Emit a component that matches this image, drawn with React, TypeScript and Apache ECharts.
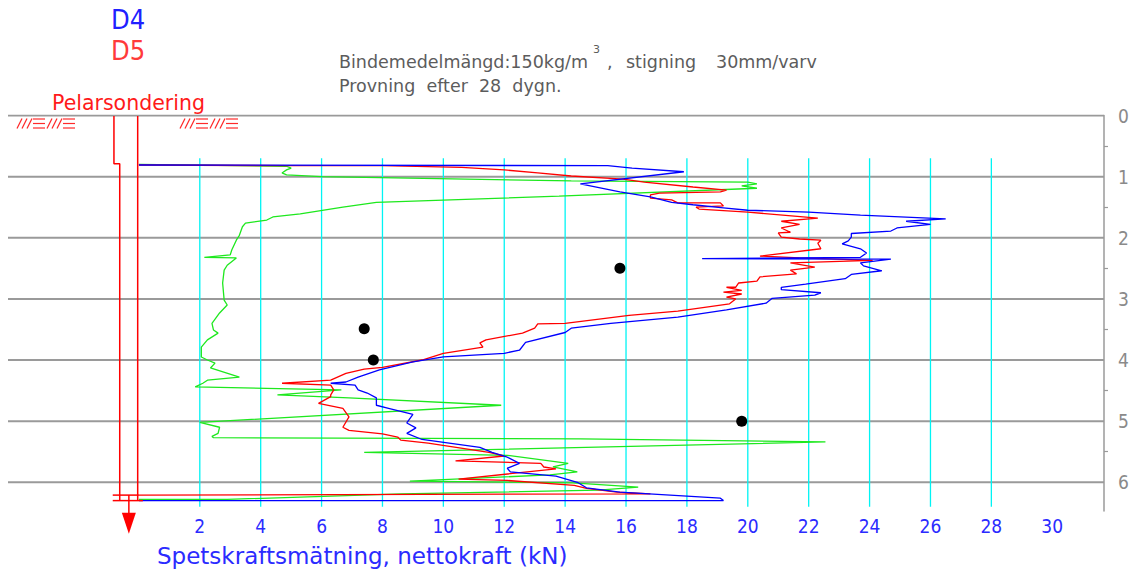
import { useEffect, useRef } from "react";
import * as echarts from "echarts";

// ---- axis ticks ----
const forceTicks = [2, 4, 6, 8, 10, 12, 14, 16, 18, 20, 22, 24, 26, 28, 30];
const cyanGridForces = [2, 4, 6, 8, 10, 12, 14, 16, 18, 20, 22, 24, 26, 28];
const depthTicks = [0, 1, 2, 3, 4, 5, 6];
const halfDepthTicks = [0.5, 1.5, 2.5, 3.5, 4.5, 5.5];

// ---- D4 (blue) ----
const d4Force = [0, 15.4, 16.2, 17.9, 14.5, 15.8, 16.8, 17.5, 18.2, 19.2, 20.0, 22.0, 23.7, 26.5, 25.2, 26.0, 24.9, 24.7, 23.4, 23.4, 23.3, 23.1, 23.7, 23.9, 23.7, 18.5, 24.7, 23.7, 23.8, 24.4, 23.4, 23.2, 21.9, 21.1, 21.1, 22.4, 22.2, 20.8, 20.6, 19.3, 17.7, 15.5, 14.2, 14.0, 12.7, 12.5, 12.0, 10.0, 9.0, 7.9, 7.2, 6.8, 6.3, 7.1, 7.2, 7.5, 7.8, 7.8, 8.2, 9.0, 8.8, 9.1, 8.8, 9.3, 11.2, 11.6, 12.1, 12.5, 12.1, 12.2, 13.7, 14.4, 14.7, 15.8, 19.1, 19.2, 0];
const d4Depth = [0.81, 0.82, 0.86, 0.92, 1.12, 1.25, 1.33, 1.42, 1.46, 1.51, 1.55, 1.58, 1.63, 1.69, 1.73, 1.78, 1.84, 1.89, 1.93, 1.99, 2.05, 2.10, 2.18, 2.25, 2.32, 2.34, 2.35, 2.41, 2.46, 2.54, 2.60, 2.67, 2.76, 2.81, 2.85, 2.90, 2.94, 2.99, 3.07, 3.18, 3.30, 3.40, 3.48, 3.55, 3.71, 3.84, 3.89, 3.95, 4.03, 4.16, 4.28, 4.36, 4.38, 4.41, 4.49, 4.54, 4.62, 4.74, 4.79, 4.89, 5.03, 5.11, 5.20, 5.30, 5.43, 5.51, 5.59, 5.69, 5.77, 5.83, 5.90, 6.00, 6.09, 6.16, 6.26, 6.30, 6.30];

// ---- D5 (red) ----
const d5Force = [0, 4.9, 8.0, 10.6, 12.0, 13.1, 14.2, 15.9, 16.6, 18.2, 19.3, 19.1, 17.1, 16.8, 16.8, 17.5, 17.7, 19.1, 19.2, 18.3, 18.4, 20.0, 22.3, 21.1, 21.7, 21.1, 21.4, 21.0, 21.1, 21.7, 22.4, 22.3, 22.4, 20.4, 21.7, 24.1, 21.4, 22.2, 21.4, 21.6, 20.4, 20.3, 19.7, 19.6, 19.3, 19.8, 19.2, 19.8, 19.3, 19.6, 19.4, 17.7, 16.1, 14.0, 13.1, 13.0, 12.6, 11.4, 11.2, 11.3, 10.0, 9.3, 8.0, 7.4, 6.8, 6.3, 4.7, 6.3, 6.4, 6.3, 6.3, 5.9, 6.7, 6.9, 6.7, 6.9, 8.0, 8.5, 8.6, 9.5, 11.5, 12.0, 10.4, 13.2, 13.3, 13.7, 10.5, 12.1, 14.3, 14.7, 15.7, 16.8, 0];
const d5Depth = [0.81, 0.82, 0.82, 0.85, 0.89, 0.94, 0.99, 1.04, 1.09, 1.17, 1.22, 1.25, 1.27, 1.30, 1.35, 1.38, 1.43, 1.43, 1.48, 1.50, 1.53, 1.58, 1.68, 1.73, 1.78, 1.84, 1.91, 1.92, 1.99, 2.02, 2.04, 2.09, 2.18, 2.30, 2.33, 2.37, 2.41, 2.48, 2.53, 2.59, 2.64, 2.71, 2.74, 2.81, 2.81, 2.86, 2.89, 2.92, 2.97, 3.00, 3.08, 3.20, 3.27, 3.40, 3.41, 3.48, 3.56, 3.67, 3.72, 3.79, 3.89, 4.00, 4.12, 4.15, 4.22, 4.33, 4.38, 4.41, 4.49, 4.57, 4.60, 4.71, 4.79, 4.93, 5.10, 5.15, 5.21, 5.26, 5.31, 5.36, 5.51, 5.57, 5.65, 5.69, 5.75, 5.78, 5.95, 5.97, 6.05, 6.10, 6.16, 6.19, 6.21];

// ---- third sounding (green) ----
const greenForce = [0, 4.85, 5.0, 4.85, 4.7, 4.85, 6.0, 14.2, 20.0, 20.3, 19.8, 20.3, 13.8, 7.8, 6.7, 5.3, 4.4, 4.2, 3.5, 3.4, 3.3, 3.2, 3.05, 3.0, 2.15, 3.2, 2.9, 2.8, 2.75, 2.8, 2.9, 2.65, 2.4, 2.45, 2.6, 2.25, 2.05, 2.05, 2.25, 2.5, 2.35, 3.3, 2.25, 2.1, 1.85, 6.65, 4.55, 6.9, 11.9, 2.0, 2.65, 2.6, 2.4, 2.45, 14.5, 22.55, 7.4, 12.1, 14.1, 13.6, 14.4, 13.5, 8.9, 14.25, 16.4, 15.1, 8.6, 2.9, 0];
const greenDepth = [0.80, 0.83, 0.86, 0.89, 0.94, 0.97, 1.00, 1.07, 1.09, 1.12, 1.15, 1.19, 1.32, 1.42, 1.50, 1.61, 1.66, 1.71, 1.76, 1.82, 1.96, 2.04, 2.20, 2.28, 2.32, 2.33, 2.45, 2.53, 2.74, 3.02, 3.10, 3.23, 3.40, 3.51, 3.56, 3.67, 3.79, 3.95, 4.00, 4.05, 4.13, 4.28, 4.33, 4.38, 4.44, 4.49, 4.57, 4.62, 4.74, 5.02, 5.10, 5.20, 5.25, 5.27, 5.29, 5.34, 5.51, 5.56, 5.69, 5.75, 5.83, 5.88, 5.98, 6.01, 6.08, 6.13, 6.19, 6.28, 6.28];

// ---- single readings (black dots) ----
const dotForce = [15.8, 7.4, 7.7, 19.8];
const dotDepth = [2.5, 3.49, 4.0, 5.0];

const zip = (a: number[], b: number[]) =>
  a.slice(0, Math.min(a.length, b.length)).map((v, i) => [v, b[i]]);

const X_MIN = -4.3;
const X_MAX = 31.7;
const COND = '"DejaVu Sans Condensed", "DejaVu Sans", sans-serif';
const SANS = '"DejaVu Sans", sans-serif';
const GRAY = "#9a9a9a";
const TXTGRAY = "#5c5c5c";

function buildHatch(bases: number[]) {
  const els: any[] = [];
  const st = { stroke: "#ff2a2a", lineWidth: 1.2 };
  bases.forEach((b) => {
    for (let i = 0; i < 3; i++) {
      const x = b + i * 5;
      els.push({ type: "line", shape: { x1: x, y1: 128.5, x2: x + 5, y2: 118.5 }, style: st, silent: true });
    }
    [119, 123.5, 128].forEach((y) => {
      els.push({ type: "line", shape: { x1: b + 16, y1: y, x2: b + 28, y2: y }, style: st, silent: true });
    });
  });
  return els;
}

function txt(text: string, x: number, y: number, size: number, color: string, family = SANS, extra: any = {}) {
  return {
    type: "text",
    x,
    y,
    silent: true,
    style: { text, fill: color, fontSize: size, fontFamily: family, verticalAlign: "middle", align: "left", ...extra },
  };
}

export default function App() {
  const ref = useRef<HTMLDivElement>(null);
  useEffect(() => {
    const chart = echarts.init(ref.current!, null, { renderer: "svg", width: 1131, height: 569 });
    const pileStyle = { color: "#ff0000", width: 1.5 };
    const pileSeries = (data: number[][]) => ({
      type: "line",
      data,
      symbol: "none",
      clip: false,
      silent: true,
      z: 4,
      lineStyle: pileStyle,
      itemStyle: { color: "#ff0000" },
    });
    const option: any = {
      animation: false,
      backgroundColor: "#ffffff",
      grid: { left: 8, top: 115.5, right: 27, bottom: 58, containLabel: false, outerBoundsMode: "none" },
      xAxis: {
        type: "value",
        min: X_MIN,
        max: X_MAX,
        position: "bottom",
        axisLine: { show: false, onZero: false },
        axisTick: { show: false },
        splitLine: { show: false },
        axisLabel: { customValues: forceTicks, color: "#2b2bff", fontFamily: COND, fontSize: 19, margin: 5 },
      },
      yAxis: {
        type: "value",
        inverse: true,
        min: 0,
        max: 6.47,
        interval: 1,
        position: "right",
        axisLine: { show: true, onZero: false, lineStyle: { color: GRAY, width: 1.5 } },
        axisTick: { show: true, customValues: halfDepthTicks, length: 4, lineStyle: { color: GRAY, width: 1.2 } },
        axisLabel: { customValues: depthTicks, color: "#8a8a8a", fontFamily: COND, fontSize: 19, margin: 14 },
        splitLine: { show: false },
      },
      series: [
        ...depthTicks.map((d) => ({
          type: "line",
          data: [
            [X_MIN, d],
            [X_MAX, d],
          ],
          symbol: "none",
          silent: true,
          z: 1,
          lineStyle: { color: GRAY, width: 2 },
        })),
        ...cyanGridForces.map((f) => ({
          type: "line",
          data: [
            [f, 0.7],
            [f, 6.4],
          ],
          symbol: "none",
          silent: true,
          z: 1,
          lineStyle: { color: "#00f4f4", width: 1.3 },
        })),
        {
          name: "green",
          type: "line",
          data: zip(greenForce, greenDepth),
          symbol: "none",
          z: 3,
          lineStyle: { color: "#1ee81e", width: 1.3 },
        },
        {
          name: "D5",
          type: "line",
          data: zip(d5Force, d5Depth),
          symbol: "none",
          z: 3,
          lineStyle: { color: "#ff0000", width: 1.3 },
        },
        {
          name: "D4",
          type: "line",
          data: zip(d4Force, d4Depth),
          symbol: "none",
          z: 3,
          lineStyle: { color: "#0000ff", width: 1.3 },
        },
        {
          type: "scatter",
          data: zip(dotForce, dotDepth),
          symbolSize: 11,
          z: 5,
          itemStyle: { color: "#000000", opacity: 1 },
        },
        pileSeries([
          [-0.82, 0.01],
          [-0.82, 0.79],
          [-0.63, 0.79],
          [-0.63, 6.3],
        ]),
        pileSeries([
          [-0.04, 0.01],
          [-0.04, 6.3],
        ]),
        pileSeries([
          [-0.86, 6.21],
          [0, 6.21],
        ]),
        pileSeries([
          [-0.86, 6.3],
          [0.13, 6.3],
        ]),
        pileSeries([
          [-0.33, 6.21],
          [-0.33, 6.55],
        ]),
        {
          type: "scatter",
          data: [[-0.33, 6.67]],
          symbol: "triangle",
          symbolRotate: 180,
          symbolSize: [14, 21],
          clip: false,
          silent: true,
          z: 4,
          itemStyle: { color: "#ff0000", opacity: 1 },
        },
      ],
      graphic: [
        ...buildHatch([17, 47, 180, 210]),
        txt("D4", 111, 19, 27, "#2020ff", COND),
        txt("D5", 111, 50, 27, "#ff3a3a", COND),
        txt("Pelarsondering", 52, 103, 20.5, "#ff1a1a", SANS),
        txt("Bindemedelmängd:150kg/m", 339, 62, 17.5, TXTGRAY),
        txt("3", 593, 49, 11, TXTGRAY),
        txt(",", 607, 62, 17.5, TXTGRAY),
        txt("stigning", 626, 62, 17.5, TXTGRAY),
        txt("30mm/varv", 716, 62, 17.5, TXTGRAY),
        txt("Provning  efter  28  dygn.", 339, 86, 17.5, TXTGRAY),
        txt("Spetskraftsmätning, nettokraft (kN)", 157, 556, 23, "#2b2bff", SANS),
      ],
    };
    chart.setOption(option);
    return () => chart.dispose();
  }, []);
  return (
    <div
      ref={ref}
      style={{ position: "fixed", left: 0, top: 0, width: 1131, height: 569, background: "#ffffff" }}
    />
  );
}
